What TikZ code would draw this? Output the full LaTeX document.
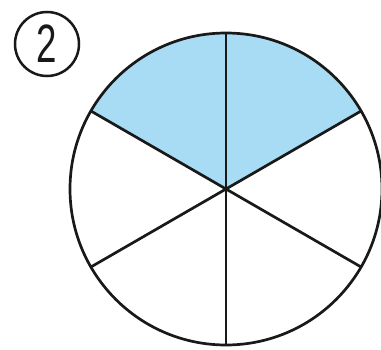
\documentclass[tikz,border=0pt]{standalone}
\usepackage{fontspec}
\setmainfont{Liberation Sans}
\usepackage{tikz}
\definecolor{sectorblue}{RGB}{168,220,245}

\begin{document}
\begin{tikzpicture}[x=1pt, y=1pt,
        edge/.style={line width=2.7pt, black!90},
        shaded/.style={fill=sectorblue},
        numbox/.style={draw, circle, line width=2.5pt, black!90, minimum size=64pt, inner sep=0pt}]
    \useasboundingbox (0,0) rectangle (381,349);
    \coordinate (O) at (226,160);
    \node[numbox] (num) at (47,305) {\fontsize{54}{54}\selectfont\scalebox{0.68}[1]{2}};
    % two shaded sixths on top
    \fill[shaded] (O) -- ++(30:156) arc[start angle=30, end angle=150, radius=156] -- cycle;
    \draw[edge] (O) circle[radius=156];
    \foreach \a in {30,90,...,330}
        \draw[edge] (O) -- ++(\a:156);
\end{tikzpicture}
\end{document}
